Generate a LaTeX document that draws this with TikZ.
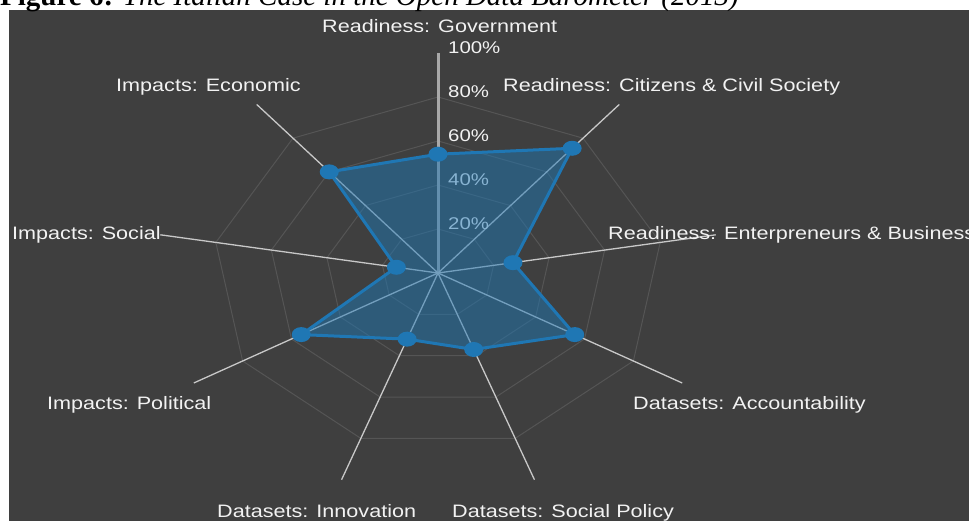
\documentclass[tikz,border=0pt]{standalone}
\usepackage{fontspec}
\setmainfont{Liberation Sans}[FakeStretch=1.2]
\newfontfamily\capfont{Liberation Serif}
\usetikzlibrary{shapes.geometric}
\definecolor{bgdark}{HTML}{3F3F3F}
\definecolor{gridc}{HTML}{555555}
\definecolor{axisc}{HTML}{C8C8C8}
\definecolor{mainaxisc}{HTML}{A8A8A8}
\definecolor{serieblue}{HTML}{1F77B4}
\definecolor{labelc}{HTML}{F2F2F2}
\tikzset{
  axislabel/.style={text=labelc, inner sep=0pt, anchor=base west, font=\fontsize{18}{20}\selectfont},
  ticklabel/.style={text=labelc, inner sep=0pt, anchor=base west, font=\fontsize{17}{19}\selectfont},
  gridline/.style={draw=gridc, line width=1pt},
  axisline/.style={draw=axisc, line width=1.3pt},
  mainaxis/.style={draw=mainaxisc, line width=3pt},
  seriesfill/.style={fill=serieblue, fill opacity=0.5},
  seriesline/.style={draw=serieblue, line width=3pt, line join=round},
  seriesdot/.style={ellipse, fill=serieblue, inner sep=0pt, minimum width=19pt, minimum height=15pt}
}
\begin{document}
\begin{tikzpicture}[x=1pt,y=1pt]
\useasboundingbox (0,0) rectangle (969,521);
\clip (0,0) rectangle (969,521);
\fill[white] (0,0) rectangle (969,521);
\fill[bgdark] (9,0) rectangle (969,511);
\node[inner sep=0pt, anchor=base west, font=\capfont\fontsize{29}{31}\selectfont] (cap) at (0,515)
  {\textbf{Figure 6:} \textit{The Italian Case in the Open Data Barometer (2013)}};

\begin{scope}[shift={(438,248)}, x=282pt, y=220pt]
  \coordinate (O) at (0,0);
  % grid rings
  \foreach \r in {0.2,0.4,0.6,0.8}
    \draw[gridline] (90:\r) -- (50:\r) -- (10:\r) -- (-30:\r) -- (-70:\r) -- (-110:\r) -- (-150:\r) -- (170:\r) -- (130:\r) -- cycle;
  % axis ends
  \coordinate (aGov) at (90:1);
  \coordinate (aCit) at (50:1);
  \coordinate (aEnt) at (10:1);
  \coordinate (aAcc) at (-30:1);
  \coordinate (aSP)  at (-70:1);
  \coordinate (aInn) at (-110:1);
  \coordinate (aPol) at (-150:1);
  \coordinate (aSoc) at (170:1);
  \coordinate (aEco) at (130:1);
  % series points
  \coordinate (pGov) at (90:0.54);
  \coordinate (pCit) at (50:0.74);
  \coordinate (pEnt) at (10:0.27);
  \coordinate (pAcc) at (-30:0.56);
  \coordinate (pSP)  at (-70:0.37);
  \coordinate (pInn) at (-110:0.32);
  \coordinate (pPol) at (-150:0.56);
  \coordinate (pSoc) at (170:0.15);
  \coordinate (pEco) at (130:0.60);
\end{scope}

% axes
\draw[mainaxis] (O) -- (aGov);
\foreach \a in {aCit,aEnt,aAcc,aSP,aInn,aPol,aSoc,aEco}
  \draw[axisline] (O) -- (\a);

% tick labels
\node[ticklabel] (t100) at (448,467) {100\%};
\node[ticklabel] (t80)  at (448,423) {80\%};
\node[ticklabel] (t60)  at (448,379) {60\%};
\node[ticklabel] (t40)  at (448,335) {40\%};
\node[ticklabel] (t20)  at (448,291) {20\%};

% series
\fill[seriesfill] (pGov) -- (pCit) -- (pEnt) -- (pAcc) -- (pSP) -- (pInn) -- (pPol) -- (pSoc) -- (pEco) -- cycle;
\draw[seriesline] (pGov) -- (pCit) -- (pEnt) -- (pAcc) -- (pSP) -- (pInn) -- (pPol) -- (pSoc) -- (pEco) -- cycle;
\foreach \p in {Gov,Cit,Ent,Acc,SP,Inn,Pol,Soc,Eco}
  \node[seriesdot] (d\p) at (p\p) {};

% axis labels
\node[axislabel] (lGov) at (322,488) {Readiness: Government};
\node[axislabel] (lCit) at (503,429) {Readiness: Citizens \& Civil Society};
\node[axislabel] (lEnt) at (608,281) {Readiness: Enterpreneurs \& Business};
\node[axislabel] (lAcc) at (633,111) {Datasets: Accountability};
\node[axislabel] (lSP)  at (452,3)   {Datasets: Social Policy};
\node[axislabel] (lInn) at (217,3)   {Datasets: Innovation};
\node[axislabel] (lPol) at (47,111)  {Impacts: Political};
\node[axislabel] (lSoc) at (12,281)  {Impacts: Social};
\node[axislabel] (lEco) at (116,429) {Impacts: Economic};
\end{tikzpicture}
\end{document}
